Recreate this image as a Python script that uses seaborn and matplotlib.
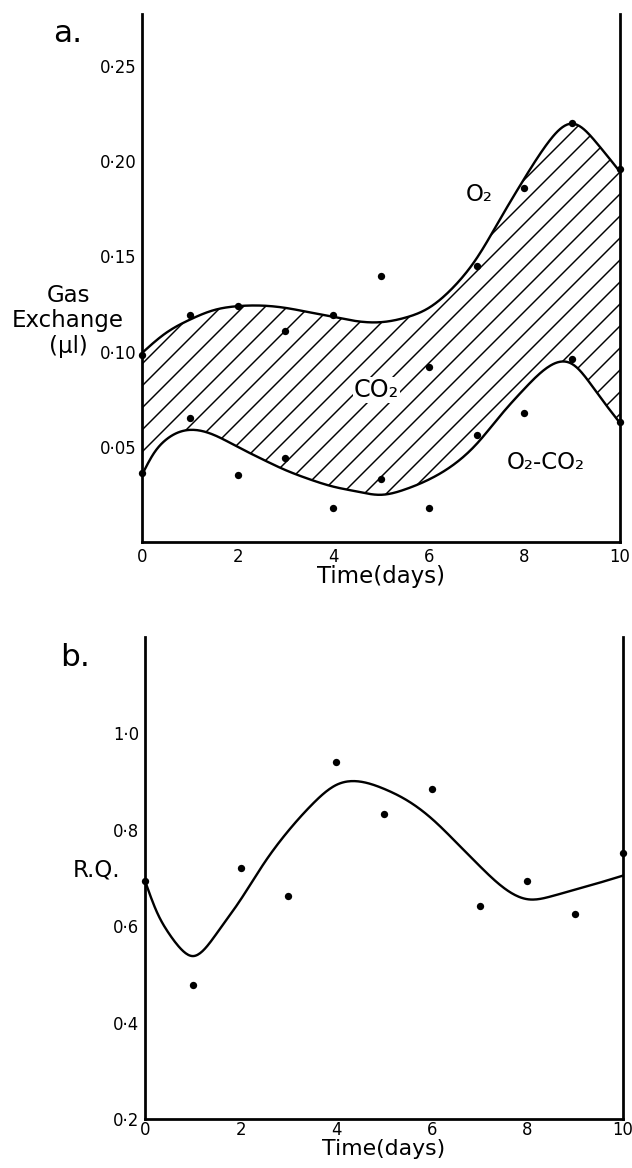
import numpy as np
import pandas as pd
import matplotlib
matplotlib.use("Agg")
import matplotlib.pyplot as plt
import seaborn as sns

# ---- measured points --------------------------------------------------------
days = [0, 1, 2, 3, 4, 5, 6, 7, 8, 9, 10]
o2_uptake = [0.098, 0.119, 0.124, 0.111, 0.119, 0.140, 0.092, 0.145, 0.186, 0.220, 0.196]
o2_minus_co2 = [0.036, 0.065, 0.035, 0.044, 0.018, 0.033, 0.018, 0.056, 0.068, 0.096, 0.063]
rq_values = [0.694, 0.478, 0.720, 0.662, 0.940, 0.833, 0.884, 0.642, 0.693, 0.626, 0.751]

# ---- hand-fitted trend curves (knots) ---------------------------------------
o2_curve_days = [0, 0.5, 1, 1.5, 2, 2.5, 3, 3.5, 4, 4.5, 5, 5.5, 6, 6.5, 7,
                 7.5, 8, 8.5, 9, 9.5, 10]
o2_curve = [0.0993, 0.1098, 0.1168, 0.1218, 0.1239, 0.1242, 0.1230, 0.1207,
            0.1183, 0.1160, 0.1155, 0.1178, 0.1230, 0.1335, 0.1490, 0.1700,
            0.1910, 0.2100, 0.2198, 0.2100, 0.1945]

diff_curve_days = [0, 0.25, 0.5, 1, 1.5, 2, 2.5, 3, 3.5, 4, 4.5, 5, 5.5, 6,
                   6.5, 7, 7.5, 8, 8.5, 9, 9.5, 10]
diff_curve = [0.0353, 0.0467, 0.0537, 0.0589, 0.0563, 0.0500, 0.0437, 0.0378,
              0.0330, 0.0291, 0.0265, 0.0248, 0.0276, 0.0328, 0.0403, 0.0515,
              0.0665, 0.0805, 0.0920, 0.0935, 0.0790, 0.0625]

rq_curve_days = [0, 0.25, 0.5, 0.75, 1, 1.25, 1.5, 2, 2.5, 3, 3.5, 4, 4.5, 5,
                 5.5, 6, 6.5, 7, 7.5, 8, 8.5, 9, 9.5, 10]
rq_curve = [0.694, 0.629, 0.585, 0.553, 0.538, 0.553, 0.585, 0.655, 0.732,
            0.798, 0.853, 0.893, 0.900, 0.885, 0.860, 0.823, 0.775, 0.725,
            0.680, 0.656, 0.662, 0.676, 0.690, 0.705]

x_ticks = [0, 2, 4, 6, 8, 10]
x_tick_labels = ["0", "2", "4", "6", "8", "10"]
gas_ticks = [0.05, 0.10, 0.15, 0.20, 0.25]
gas_tick_labels = ["0·05", "0·10", "0·15", "0·20", "0·25"]
rq_ticks = [0.2, 0.4, 0.6, 0.8, 1.0]
rq_tick_labels = ["0·2", "0·4", "0·6", "0·8", "1·0"]


def smooth(xk, yk, n=400):
    """Natural cubic spline through the knots, for drawing a smooth curve."""
    x = np.asarray(xk, float)
    y = np.asarray(yk, float)
    m = len(x)
    h = np.diff(x)
    A = np.zeros((m, m))
    r = np.zeros(m)
    A[0, 0] = A[-1, -1] = 1.0
    for i in range(1, m - 1):
        A[i, i - 1] = h[i - 1]
        A[i, i] = 2 * (h[i - 1] + h[i])
        A[i, i + 1] = h[i]
        r[i] = 3 * ((y[i + 1] - y[i]) / h[i] - (y[i] - y[i - 1]) / h[i - 1])
    c = np.linalg.solve(A, r)
    b = (y[1:] - y[:-1]) / h - h * (2 * c[:-1] + c[1:]) / 3
    d = (c[1:] - c[:-1]) / (3 * h)
    xs = np.linspace(x[0], x[-1], n)
    idx = np.clip(np.searchsorted(x, xs, side="right") - 1, 0, m - 2)
    dx = xs - x[idx]
    return xs, y[idx] + b[idx] * dx + c[idx] * dx ** 2 + d[idx] * dx ** 3


sns.set_theme(style="white")
plt.rcParams["font.family"] = ["DejaVu Sans"]
plt.rcParams["hatch.linewidth"] = 0.8
plt.rcParams["hatch.color"] = "black"
for key in ("text.color", "axes.labelcolor", "xtick.color", "ytick.color",
            "xtick.labelcolor", "ytick.labelcolor"):
    plt.rcParams[key] = "black"

W, H, DPI = 632, 1168, 132
fig = plt.figure(figsize=(W / DPI, H / DPI), dpi=DPI)


def fx(px):
    return px / W


def fy(py):
    return 1 - py / H


ax_a = fig.add_axes([fx(142), fy(542), fx(620) - fx(142), fy(14) - fy(542)])
ax_b = fig.add_axes([fx(145), fy(1119), fx(623) - fx(145), fy(637) - fy(1119)])

LINE_KW = dict(color="black", linewidth=1.3, estimator=None, legend=False)
DOT_KW = dict(color="black", s=16, linewidth=0, legend=False, clip_on=False, zorder=5)

# ---- panel a: gas exchange ---------------------------------------------------
gx, gy_o2 = smooth(o2_curve_days, o2_curve)
_, gy_diff = smooth(diff_curve_days, diff_curve, n=len(gx))
curves = pd.DataFrame({"day": gx, "o2": gy_o2, "diff": gy_diff})

ax_a.fill_between(curves["day"], curves["diff"], curves["o2"],
                  facecolor="none", edgecolor="black", hatch="//", linewidth=0)
sns.lineplot(data=curves, x="day", y="o2", ax=ax_a, **LINE_KW)
sns.lineplot(data=curves, x="day", y="diff", ax=ax_a, **LINE_KW)

points = pd.DataFrame({"day": days, "o2": o2_uptake, "diff": o2_minus_co2})
sns.scatterplot(data=points, x="day", y="o2", ax=ax_a, **DOT_KW)
sns.scatterplot(data=points, x="day", y="diff", ax=ax_a, **DOT_KW)

ax_a.set_xlim(0, 10)
ax_a.set_ylim(0, 0.2774)
ax_a.set_yticks(gas_ticks)
ax_a.set_yticklabels(gas_tick_labels)
ax_a.set_ylabel("")

ax_a.text(7.06, 0.1826, "O₂", fontsize=12.5, ha="center", va="center")
ax_a.text(4.9, 0.080, "CO₂", fontsize=13, ha="center", va="center",
          bbox=dict(facecolor="white", edgecolor="none", pad=0.5))
ax_a.text(8.45, 0.042, "O₂-CO₂", fontsize=12.5, ha="center", va="center")

# ---- panel b: respiratory quotient -------------------------------------------
rx, ry = smooth(rq_curve_days, rq_curve)
rq_line = pd.DataFrame({"day": rx, "rq": ry})
rq_points = pd.DataFrame({"day": days, "rq": rq_values})
sns.lineplot(data=rq_line, x="day", y="rq", ax=ax_b, **LINE_KW)
sns.scatterplot(data=rq_points, x="day", y="rq", ax=ax_b, **DOT_KW)

ax_b.set_xlim(0, 10)
ax_b.set_ylim(0.2, 1.2)
ax_b.set_yticks(rq_ticks)
ax_b.set_yticklabels(rq_tick_labels)
ax_b.set_ylabel("")

for ax in (ax_a, ax_b):
    ax.set_xticks(x_ticks)
    ax.set_xticklabels(x_tick_labels)
    ax.spines["top"].set_visible(False)
    for side in ("left", "right", "bottom"):
        ax.spines[side].set_color("black")
        ax.spines[side].set_linewidth(1.5)
    ax.tick_params(axis="both", direction="in", length=2.5, width=1.0,
                   color="black", labelcolor="black", labelsize=9, pad=3)
    ax.patch.set_alpha(0)

ax_a.set_xlabel("Time(days)", fontsize=12.5, labelpad=0)
ax_b.tick_params(axis="x", pad=1)
ax_b.set_xlabel("Time(days)", fontsize=12, labelpad=0)

fig.text(fx(53), fy(42), "a.", fontsize=17, ha="left", va="baseline")
fig.text(fx(60), fy(666), "b.", fontsize=17, ha="left", va="baseline")
# y-axis caption of panel a, one line per text
for label, py in (("Gas", 296), ("Exchange", 321), ("(μl)", 346)):
    fig.text(fx(68), fy(py), label, fontsize=12.5, ha="center", va="center")
fig.text(fx(97), fy(870), "R.Q.", fontsize=12.5, ha="center", va="center")

fig.savefig("out.png", dpi=DPI, facecolor="white")
